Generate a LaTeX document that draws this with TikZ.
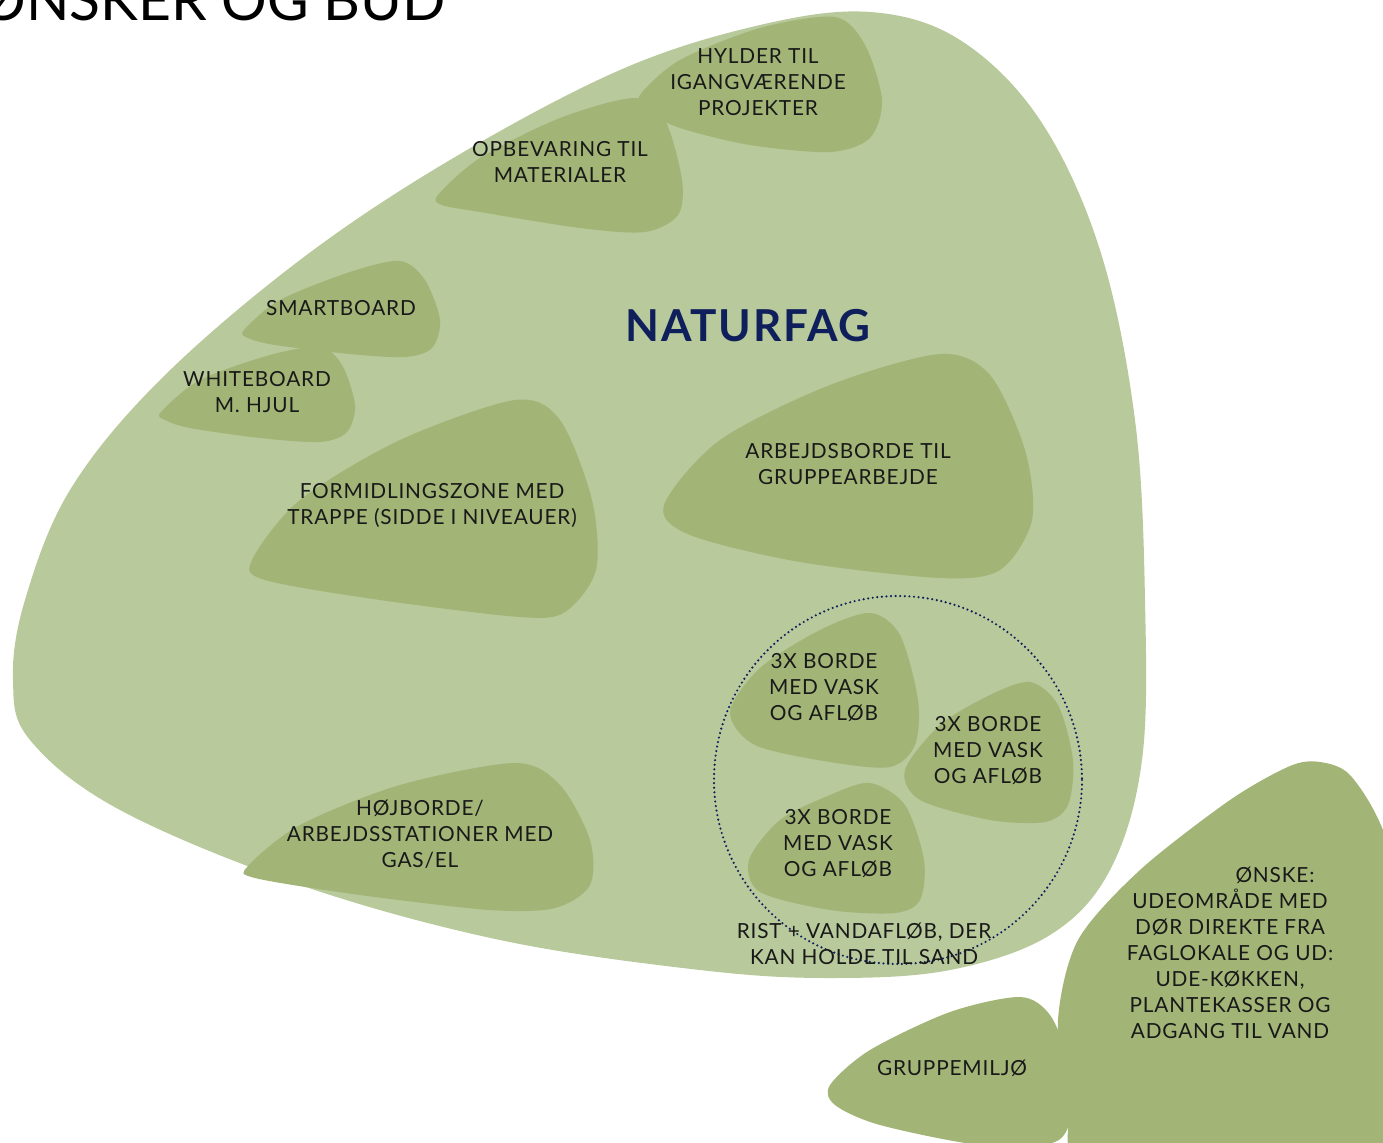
\documentclass[tikz,border=0pt]{standalone}
\usepackage{fontspec}
\setmainfont{Lato}
\usetikzlibrary{positioning}
\definecolor{zonegreen}{HTML}{B8C99B}
\definecolor{blobgreen}{HTML}{A2B577}
\definecolor{navyblue}{HTML}{0F1F5C}
\newfontfamily\lblfont[LetterSpace=4]{Lato}
\tikzset{
  zone/.style={fill=zonegreen},
  blob/.style={fill=blobgreen},
  lbl/.style={align=center, inner sep=0pt, text=black!90,
    font=\lblfont\fontsize{10.4}{13}\selectfont},
  ring/.style={navyblue, line width=1.2pt, line cap=round, dash pattern=on 0pt off 2.3pt}
}
\begin{document}
\begin{tikzpicture}[x=0.5pt,y=-0.5pt]
\useasboundingbox (0,0) rectangle (1383,1142);
\begin{scope}
\clip (0,0) rectangle (1383,1142);
% zone
\fill[zone] plot[smooth cycle, tension=0.6] coordinates {
  (870,12) (960,40) (1040,120) (1100,250) (1135,420) (1145,600) (1142,760)
  (1110,870) (1050,935) (950,970) (830,978) (700,970) (500,940) (300,885)
  (120,810) (30,740) (13,680) (25,600) (70,490) (160,380) (300,260)
  (450,160) (620,70) (760,25)};
% blobs
\fill[blob] plot[smooth cycle] coordinates {(640,95) (680,60) (760,28) (835,17) (865,45) (882,100) (870,138) (830,152) (750,145) (680,128) (645,110)};
\fill[blob] plot[smooth cycle] coordinates {(438,195) (480,158) (560,118) (635,98) (665,120) (682,180) (678,215) (645,232) (580,228) (480,212) (442,205)};
\fill[blob] plot[smooth cycle] coordinates {(244,330) (280,300) (350,272) (400,261) (425,280) (440,320) (432,348) (405,357) (350,354) (275,345) (248,338)};
\fill[blob] plot[smooth cycle] coordinates {(161,412) (200,380) (270,355) (320,347) (342,365) (355,405) (347,432) (320,442) (260,438) (190,428) (165,420)};
\fill[blob] plot[smooth cycle] coordinates {(252,560) (300,500) (400,440) (515,400) (560,420) (592,500) (596,570) (565,612) (520,617) (380,600) (265,580)};
\fill[blob] plot[smooth cycle] coordinates {(664,505) (720,440) (830,385) (940,354) (990,375) (1025,450) (1032,520) (1000,570) (940,578) (800,562) (690,535)};
\fill[blob] plot[smooth cycle] coordinates {(248,866) (300,825) (400,785) (515,763) (560,785) (590,840) (590,885) (555,908) (490,910) (360,895) (255,878)};
\fill[blob] plot[smooth cycle] coordinates {(730,712) (760,668) (820,630) (870,613) (900,635) (918,700) (915,745) (890,767) (830,762) (755,745)};
\fill[blob] plot[smooth cycle] coordinates {(905,770) (940,725) (990,695) (1030,682) (1058,705) (1073,760) (1068,805) (1045,822) (990,820) (920,800)};
\fill[blob] plot[smooth cycle] coordinates {(749,860) (780,820) (830,795) (870,783) (905,805) (924,860) (920,900) (895,913) (830,910) (760,892)};
\fill[blob] plot[smooth cycle] coordinates {(1320,762) (1350,775) (1383,830) (1420,950) (1420,1180) (1100,1180) (1068,1100) (1058,1020) (1078,940) (1140,870) (1230,800) (1290,766)};
\fill[blob] plot[smooth cycle] coordinates {(830,1085) (870,1050) (950,1012) (1020,997) (1050,1015) (1068,1060) (1072,1110) (1055,1142) (980,1145) (880,1125) (835,1105)};
\end{scope}
% ring
\draw[ring] (898,780) circle[radius=184];
% nodes
\node[anchor=base west, inner sep=0pt, font=\fontsize{28.5}{30}\selectfont] (title) at (-20,20) {ØNSKER OG BUD};
\node[inner sep=0pt, text=navyblue, font=\lblfont\fontsize{22}{22}\selectfont\bfseries] (naturfag) at (748,326) {NATURFAG};
\node[lbl] (hylder) at (758,82) {HYLDER TIL\\IGANGVÆRENDE\\PROJEKTER};
\node[lbl] (opbevaring) at (560,162) {OPBEVARING TIL\\MATERIALER};
\node[lbl] (smartboard) at (341,308) {SMARTBOARD};
\node[lbl] (whiteboard) at (257,392) {WHITEBOARD\\M. HJUL};
\node[lbl] (arbejdsborde) at (848,464) {ARBEJDSBORDE TIL\\GRUPPEARBEJDE};
\node[lbl] (formidling) at (432,505) {FORMIDLINGSZONE MED\\TRAPPE (SIDDE I NIVEAUER)};
\node[lbl] (vaskA) at (824,688) {3X BORDE\\MED VASK\\OG AFLØB};
\node[lbl] (vaskB) at (988,751) {3X BORDE\\MED VASK\\OG AFLØB};
\node[lbl] (vaskC) at (838,844) {3X BORDE\\MED VASK\\OG AFLØB};
\node[lbl] (hoejborde) at (420,834) {HØJBORDE/\\ARBEJDSSTATIONER MED\\GAS/EL};
\node[lbl] (rist) at (864,944) {RIST + VANDAFLØB, DER\\KAN HOLDE TIL SAND};
\node[lbl] (oenske) at (1230,953) {\hspace*{45pt}ØNSKE:\\UDEOMRÅDE MED\\DØR DIREKTE FRA\\FAGLOKALE OG UD:\\UDE-KØKKEN,\\PLANTEKASSER OG\\ADGANG TIL VAND};
\node[lbl] (gruppe) at (952,1068) {GRUPPEMILJØ};
\end{tikzpicture}
\end{document}
